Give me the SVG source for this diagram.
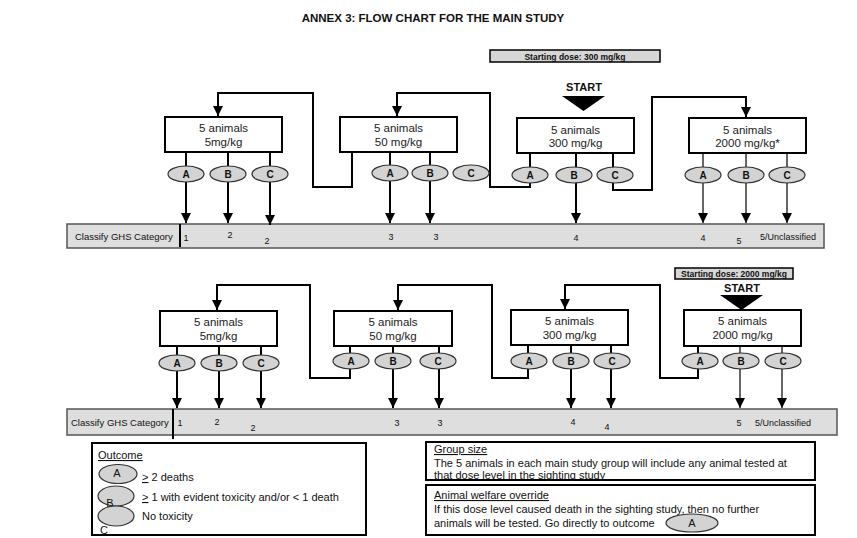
<svg xmlns="http://www.w3.org/2000/svg" width="857" height="538" viewBox="0 0 857 538">
<style>
text{font-family:"Liberation Sans",Arial,sans-serif;fill:#111}
.title{font-size:11.5px;font-weight:bold}
.box{fill:#fff;stroke:#000;stroke-width:2}
.bt{font-size:11.5px;text-anchor:middle;fill:#222}
.ell{fill:#d3d3d3;stroke:#333;stroke-width:1.2}
.el{font-size:10px;font-weight:bold;text-anchor:middle}
.con{fill:none;stroke:#000;stroke-width:2}
.thin{fill:none;stroke:#000;stroke-width:1.2}
.bar{fill:#dedede;stroke:#555;stroke-width:1.5}
.cat{font-size:9.5px}
.num{font-size:9px;text-anchor:middle}
.lbl{font-size:9px}
.sd{fill:#d6d6d6;stroke:#000;stroke-width:1.5}
.sdt{font-size:8.5px;font-weight:bold;text-anchor:middle}
.start{font-size:11px;font-weight:bold;text-anchor:middle}
.leg{fill:#fff;stroke:#000;stroke-width:2}
.lt{font-size:11px}
.lc{font-size:11px;text-anchor:middle}
.u{text-decoration:underline}
</style>
<defs>
<marker id="ah" markerUnits="userSpaceOnUse" markerWidth="10" markerHeight="10" refX="10" refY="5" orient="auto">
<path d="M0,0 L10,5 L0,10 z" fill="#000"/>
</marker>
</defs>

<text class="title" x="433" y="22" text-anchor="middle">ANNEX 3: FLOW CHART FOR THE MAIN STUDY</text>

<!-- classification bars -->
<g id="bar-top">
<rect class="bar" x="67" y="224" width="757" height="24"/>
<line x1="180" y1="224" x2="180" y2="247" stroke="#000" stroke-width="2"/>
<text class="cat" x="75" y="240">Classify GHS Category</text>
<text class="num" x="186" y="241">1</text>
<text class="num" x="230" y="238">2</text>
<text class="num" x="267" y="244">2</text>
<text class="num" x="391" y="240">3</text>
<text class="num" x="436" y="240">3</text>
<text class="num" x="576" y="241">4</text>
<text class="num" x="703" y="241">4</text>
<text class="num" x="739" y="244">5</text>
<text class="lbl" x="760" y="240">5/Unclassified</text>
</g>
<g id="bar-bottom">
<rect class="bar" x="67" y="409" width="770" height="26"/>
<line x1="173" y1="409" x2="173" y2="439" stroke="#000" stroke-width="2"/>
<text class="cat" x="71" y="426">Classify GHS Category</text>
<text class="num" x="180" y="426">1</text>
<text class="num" x="217" y="425">2</text>
<text class="num" x="253" y="431">2</text>
<text class="num" x="397" y="426">3</text>
<text class="num" x="440" y="426">3</text>
<text class="num" x="573" y="425">4</text>
<text class="num" x="607" y="430">4</text>
<text class="num" x="739" y="426">5</text>
<text class="lbl" x="755" y="426">5/Unclassified</text>
</g>

<!-- connectors -->
<g id="connectors">
<path class="con" d="M186,152 V223" marker-end="url(#ah)"/>
<path class="con" d="M228,152 V223" marker-end="url(#ah)"/>
<path class="con" d="M270,152 V225" marker-end="url(#ah)"/>
<path class="con" d="M352,152 V187 H313 V93 H218 V116" marker-end="url(#ah)"/>
<path class="con" d="M390,152 V223" marker-end="url(#ah)"/>
<path class="con" d="M430,152 V223" marker-end="url(#ah)"/>
<path class="con" d="M530,153 V187 H490 V93 H397 V116" marker-end="url(#ah)"/>
<path class="con" d="M576,153 V223" marker-end="url(#ah)"/>
<path class="con" d="M613,153 V190 H652 V97 H746 V117" marker-end="url(#ah)"/>
<path class="thin" d="M703,153 V223" marker-end="url(#ah)"/>
<path class="thin" d="M746,153 V223" marker-end="url(#ah)"/>
<path class="thin" d="M787,153 V223" marker-end="url(#ah)"/>
<path class="con" d="M177,346 V408" marker-end="url(#ah)"/>
<path class="con" d="M219,346 V408" marker-end="url(#ah)"/>
<path class="con" d="M261,346 V408" marker-end="url(#ah)"/>
<path class="con" d="M350,346 V378 H310 V285 H217 V310" marker-end="url(#ah)"/>
<path class="con" d="M393,346 V408" marker-end="url(#ah)"/>
<path class="con" d="M439,346 V408" marker-end="url(#ah)"/>
<path class="con" d="M528,345 V378 H492 V285 H398 V310" marker-end="url(#ah)"/>
<path class="con" d="M571,345 V408" marker-end="url(#ah)"/>
<path class="con" d="M611,345 V408" marker-end="url(#ah)"/>
<path class="con" d="M698,346 V378 H660 V285 H565 V309" marker-end="url(#ah)"/>
<path class="thin" d="M740,346 V408" marker-end="url(#ah)"/>
<path class="thin" d="M782,346 V408" marker-end="url(#ah)"/>
</g>

<!-- start markers -->
<g id="start-top">
<rect class="sd" x="490" y="50" width="170" height="12"/>
<text class="sdt" x="575" y="59.5">Starting dose: 300 mg/kg</text>
<text class="start" x="584" y="91">START</text>
<polygon points="562,96 605,96 583.5,111" fill="#000"/>
</g>
<g id="start-bottom">
<rect class="sd" x="675" y="268" width="118" height="11"/>
<text class="sdt" x="734" y="276.5">Starting dose: 2000 mg/kg</text>
<text class="start" x="742" y="292">START</text>
<polygon points="720,295 763,295 741.5,310" fill="#000"/>
</g>

<!-- top row nodes -->
<g id="t-5">
<rect class="box" x="165" y="117" width="117" height="35"/>
<text class="bt" x="223.5" y="132">5 animals</text>
<text class="bt" x="223.5" y="146">5mg/kg</text>
<ellipse class="ell" cx="186" cy="174" rx="18" ry="8"/><text class="el" x="186" y="177.5">A</text>
<ellipse class="ell" cx="228" cy="174" rx="18" ry="8"/><text class="el" x="228" y="177.5">B</text>
<ellipse class="ell" cx="270" cy="174" rx="18" ry="8"/><text class="el" x="270" y="177.5">C</text>
</g>
<g id="t-50">
<rect class="box" x="340" y="117" width="117" height="35"/>
<text class="bt" x="398.5" y="132">5 animals</text>
<text class="bt" x="398.5" y="146">50 mg/kg</text>
<ellipse class="ell" cx="390" cy="173" rx="18" ry="8"/><text class="el" x="390" y="176.5">A</text>
<ellipse class="ell" cx="430" cy="173" rx="18" ry="8"/><text class="el" x="430" y="176.5">B</text>
<ellipse class="ell" cx="471" cy="173" rx="18" ry="8"/><text class="el" x="471" y="176.5">C</text>
</g>
<g id="t-300">
<rect class="box" x="517" y="118" width="117" height="35"/>
<text class="bt" x="575.5" y="134">5 animals</text>
<text class="bt" x="575.5" y="147">300 mg/kg</text>
<ellipse class="ell" cx="530" cy="175" rx="18" ry="8"/><text class="el" x="530" y="178.5">A</text>
<ellipse class="ell" cx="574" cy="175" rx="18" ry="8"/><text class="el" x="574" y="178.5">B</text>
<ellipse class="ell" cx="615" cy="175" rx="18" ry="8"/><text class="el" x="615" y="178.5">C</text>
</g>
<g id="t-2000">
<rect class="box" x="689" y="118" width="117" height="35"/>
<text class="bt" x="747.5" y="134">5 animals</text>
<text class="bt" x="747.5" y="147">2000 mg/kg*</text>
<ellipse class="ell" cx="703" cy="175" rx="18" ry="8"/><text class="el" x="703" y="178.5">A</text>
<ellipse class="ell" cx="746" cy="175" rx="18" ry="8"/><text class="el" x="746" y="178.5">B</text>
<ellipse class="ell" cx="787" cy="175" rx="18" ry="8"/><text class="el" x="787" y="178.5">C</text>
</g>

<!-- bottom row nodes -->
<g id="b-5">
<rect class="box" x="160" y="311" width="117" height="35"/>
<text class="bt" x="218.5" y="326">5 animals</text>
<text class="bt" x="218.5" y="340">5mg/kg</text>
<ellipse class="ell" cx="177" cy="363" rx="18" ry="8"/><text class="el" x="177" y="366.5">A</text>
<ellipse class="ell" cx="219" cy="363" rx="18" ry="8"/><text class="el" x="219" y="366.5">B</text>
<ellipse class="ell" cx="261" cy="363" rx="18" ry="8"/><text class="el" x="261" y="366.5">C</text>
</g>
<g id="b-50">
<rect class="box" x="334" y="311" width="118" height="35"/>
<text class="bt" x="393" y="326">5 animals</text>
<text class="bt" x="393" y="340">50 mg/kg</text>
<ellipse class="ell" cx="351" cy="361" rx="18" ry="8"/><text class="el" x="351" y="364.5">A</text>
<ellipse class="ell" cx="393" cy="361" rx="18" ry="8"/><text class="el" x="393" y="364.5">B</text>
<ellipse class="ell" cx="438" cy="361" rx="18" ry="8"/><text class="el" x="438" y="364.5">C</text>
</g>
<g id="b-300">
<rect class="box" x="511" y="310" width="117" height="35"/>
<text class="bt" x="569.5" y="325">5 animals</text>
<text class="bt" x="569.5" y="339">300 mg/kg</text>
<ellipse class="ell" cx="529" cy="361" rx="18" ry="8"/><text class="el" x="529" y="364.5">A</text>
<ellipse class="ell" cx="571" cy="361" rx="18" ry="8"/><text class="el" x="571" y="364.5">B</text>
<ellipse class="ell" cx="612" cy="361" rx="18" ry="8"/><text class="el" x="612" y="364.5">C</text>
</g>
<g id="b-2000">
<rect class="box" x="684" y="310" width="117" height="36"/>
<text class="bt" x="742.5" y="325">5 animals</text>
<text class="bt" x="742.5" y="339">2000 mg/kg</text>
<ellipse class="ell" cx="700" cy="361" rx="18" ry="8"/><text class="el" x="700" y="364.5">A</text>
<ellipse class="ell" cx="741" cy="361" rx="18" ry="8"/><text class="el" x="741" y="364.5">B</text>
<ellipse class="ell" cx="783" cy="361" rx="18" ry="8"/><text class="el" x="783" y="364.5">C</text>
</g>

<!-- legends -->
<g id="legend-outcome">
<rect class="leg" x="92" y="443" width="274" height="92"/>
<text class="lt u" x="98" y="459">Outcome</text>
<ellipse class="ell" cx="118" cy="474" rx="19" ry="9.5"/>
<text class="lc" x="117" y="477">A</text>
<ellipse class="ell" cx="116" cy="496" rx="18" ry="10"/>
<text class="lc" x="110" y="507">B</text>
<ellipse class="ell" cx="116" cy="516" rx="18" ry="10"/>
<text class="lc" x="104" y="534">C</text>
<text class="lt" x="142" y="481"><tspan class="u">&gt;</tspan> 2 deaths</text>
<text class="lt" x="142" y="501"><tspan class="u">&gt;</tspan> 1 with evident toxicity and/or &lt; 1 death</text>
<text class="lt" x="142" y="520">No toxicity</text>
</g>
<g id="legend-group">
<rect class="leg" x="426" y="442" width="389" height="38"/>
<text class="lt u" x="434" y="453">Group size</text>
<text class="lt" x="434" y="467">The 5 animals in each main study group will include any animal tested at</text>
<text class="lt" x="434" y="479">that dose level in the sighting study</text>
</g>
<g id="legend-welfare">
<rect class="leg" x="426" y="485" width="389" height="50"/>
<text class="lt u" x="434" y="499">Animal welfare override</text>
<text class="lt" x="434" y="513">If this dose level caused death in the sighting study, then no further</text>
<text class="lt" x="434" y="527">animals will be tested. Go directly to outcome</text>
<ellipse class="ell" cx="692" cy="523" rx="26" ry="9"/>
<text class="lc" x="692" y="527">A</text>
</g>
</svg>
